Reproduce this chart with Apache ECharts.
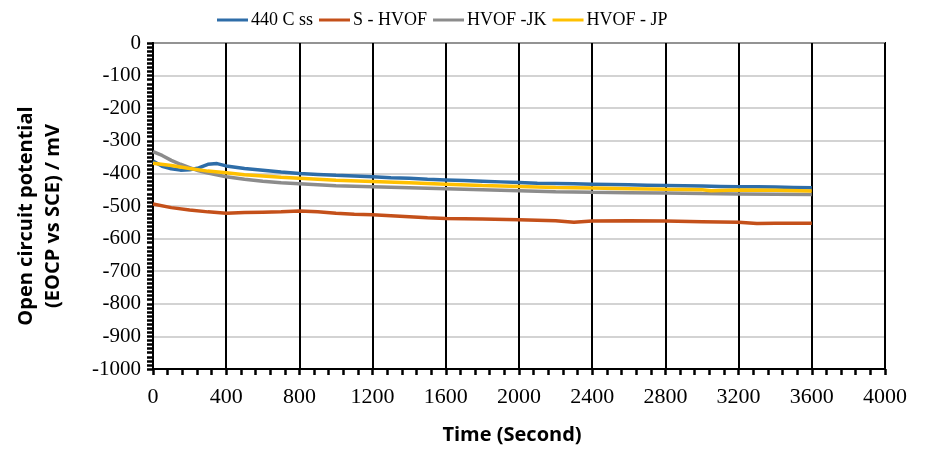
<!DOCTYPE html>
<html>
<head>
<meta charset="utf-8">
<script src="https://cdn.jsdelivr.net/npm/echarts@6/dist/echarts.min.js"></script>
<style>html,body{margin:0;padding:0;background:#fff;}#c{width:930px;height:454px;}</style>
</head>
<body>
<div id="c"></div>
<script>
var seriesNames = ['440 C ss', 'S - HVOF', 'HVOF -JK', 'HVOF - JP'];
var xTicks = [0, 400, 800, 1200, 1600, 2000, 2400, 2800, 3200, 3600, 4000];

var tBlue = [0, 50, 100, 150, 200, 250, 300, 350, 400, 500, 600, 700, 800, 900, 1000, 1100, 1200, 1300, 1400, 1500, 1600, 1700, 1800, 1900, 2000, 2100, 2200, 2300, 2400, 2500, 2600, 2700, 2800, 2900, 3000, 3100, 3200, 3300, 3400, 3500, 3600];
var vBlue = [-362, -378, -386, -390, -389, -383, -372, -370, -377, -385, -390, -396, -400, -403, -406, -408, -410, -413, -415, -418, -420, -422, -424, -426, -428, -430, -431, -432, -433, -434, -435, -436, -437, -438, -439, -440, -441, -441, -442, -443, -444];

var tOrange = [0, 100, 200, 300, 400, 500, 600, 700, 800, 900, 1000, 1100, 1200, 1300, 1400, 1500, 1600, 1800, 2000, 2200, 2300, 2400, 2600, 2800, 3000, 3200, 3300, 3400, 3600];
var vOrange = [-494, -505, -512, -518, -522, -520, -519, -518, -515, -518, -522, -525, -527, -530, -533, -536, -538, -540, -542, -545, -550, -546, -545, -546, -548, -550, -554, -553, -553];

var tGray = [0, 50, 100, 150, 200, 250, 300, 400, 500, 600, 700, 800, 1000, 1200, 1400, 1600, 1800, 2000, 2200, 2400, 2600, 2800, 3000, 3200, 3400, 3600];
var vGray = [-333, -345, -360, -372, -382, -392, -399, -410, -418, -424, -429, -432, -438, -441, -444, -447, -450, -453, -456, -458, -459, -460, -462, -463, -464, -465];

var tYellow = [0, 100, 200, 300, 400, 500, 600, 700, 800, 1000, 1200, 1400, 1600, 1800, 2000, 2200, 2400, 2600, 2800, 3000, 3050, 3200, 3400, 3600];
var vYellow = [-369, -376, -385, -393, -398, -404, -408, -412, -415, -421, -425, -429, -433, -437, -440, -443, -445, -447, -449, -450, -453, -451, -452, -454];

function pairs(t, v) { return t.map(function (x, i) { return [x, v[i]]; }); }

var colors = ['#2E6DA8', '#C4501A', '#8C8C8C', '#FFC000'];
var data = [pairs(tBlue, vBlue), pairs(tOrange, vOrange), pairs(tGray, vGray), pairs(tYellow, vYellow)];

var chart = echarts.init(document.getElementById('c'), null, {renderer: 'canvas'});
var serif = 'Liberation Serif, Times New Roman, serif';
function black() { return {color: '#000', width: 2}; }
function tickStyle() { return {color: '#000', width: 2.5}; }
chart.setOption({
  animation: false,
  backgroundColor: '#fff',
  color: colors,
  legend: {
    top: 6, left: 212, itemGap: 6, itemWidth: 31, itemHeight: 3, icon: 'rect',
    textStyle: {fontFamily: serif, fontSize: 18, color: '#000', padding: [0, 0, 0, -2]},
    data: seriesNames
  },
  grid: {left: 153, top: 43, right: 45, bottom: 85, show: true, borderColor: '#000', borderWidth: 2,
    backgroundColor: 'transparent', outerBoundsMode: 'none', containLabel: false},
  xAxis: [{
    type: 'value', min: 0, max: 4000, interval: 400, position: 'bottom',
    name: 'Time (Second)', nameLocation: 'middle', nameGap: 56,
    nameTextStyle: {fontFamily: 'Open Sans', fontWeight: 'bold', fontSize: 20, color: '#000', padding: [0, 14, 0, 0]},
    axisLine: {show: true, onZero: false, lineStyle: black()},
    axisTick: {show: true, inside: false, length: 6, lineStyle: tickStyle()},
    axisLabel: {fontFamily: serif, fontSize: 22, color: '#000', margin: 17,
      formatter: function (v) { return xTicks.indexOf(v) >= 0 ? String(v) : ''; }},
    splitLine: {show: true, lineStyle: black()}
  }, {
    type: 'value', min: 0, max: 4000, interval: 80, position: 'bottom',
    axisLine: {show: true, onZero: false, lineStyle: black()}, axisLabel: {show: false}, splitLine: {show: false},
    axisTick: {show: true, inside: false, length: 6, lineStyle: tickStyle()}
  }],
  yAxis: [{
    type: 'value', min: -1000, max: 0, interval: 100, position: 'left',
    name: 'Open circuit potential\n(EOCP vs SCE) / mV', nameLocation: 'middle', nameGap: 86, nameRotate: 90,
    nameTextStyle: {fontFamily: 'Open Sans', fontWeight: 'bold', fontSize: 20, color: '#000', lineHeight: 27, padding: [0, 20, 0, 0]},
    axisLine: {show: true, onZero: false, lineStyle: black()},
    axisTick: {show: true, inside: false, length: 6, lineStyle: tickStyle()},
    axisLabel: {fontFamily: serif, fontSize: 21, color: '#000', margin: 12,
      formatter: function (v) { return String(v); }},
    splitLine: {show: true, lineStyle: {color: '#C4C4C4', width: 1.5}}
  }, {
    type: 'value', min: -1000, max: 0, interval: 12.5, position: 'left',
    axisLine: {show: true, onZero: false, lineStyle: black()}, axisLabel: {show: false}, splitLine: {show: false},
    axisTick: {show: true, inside: false, length: 6, lineStyle: tickStyle()}
  }],
  series: seriesNames.map(function (n, i) {
    return {name: n, type: 'line', data: data[i], showSymbol: false, smooth: false,
      xAxisIndex: 0, yAxisIndex: 0,
      lineStyle: {width: 3.5, color: colors[i]}, itemStyle: {color: colors[i]}, z: [2, 3, 4, 5][i]};
  })
});
</script>
</body>
</html>
